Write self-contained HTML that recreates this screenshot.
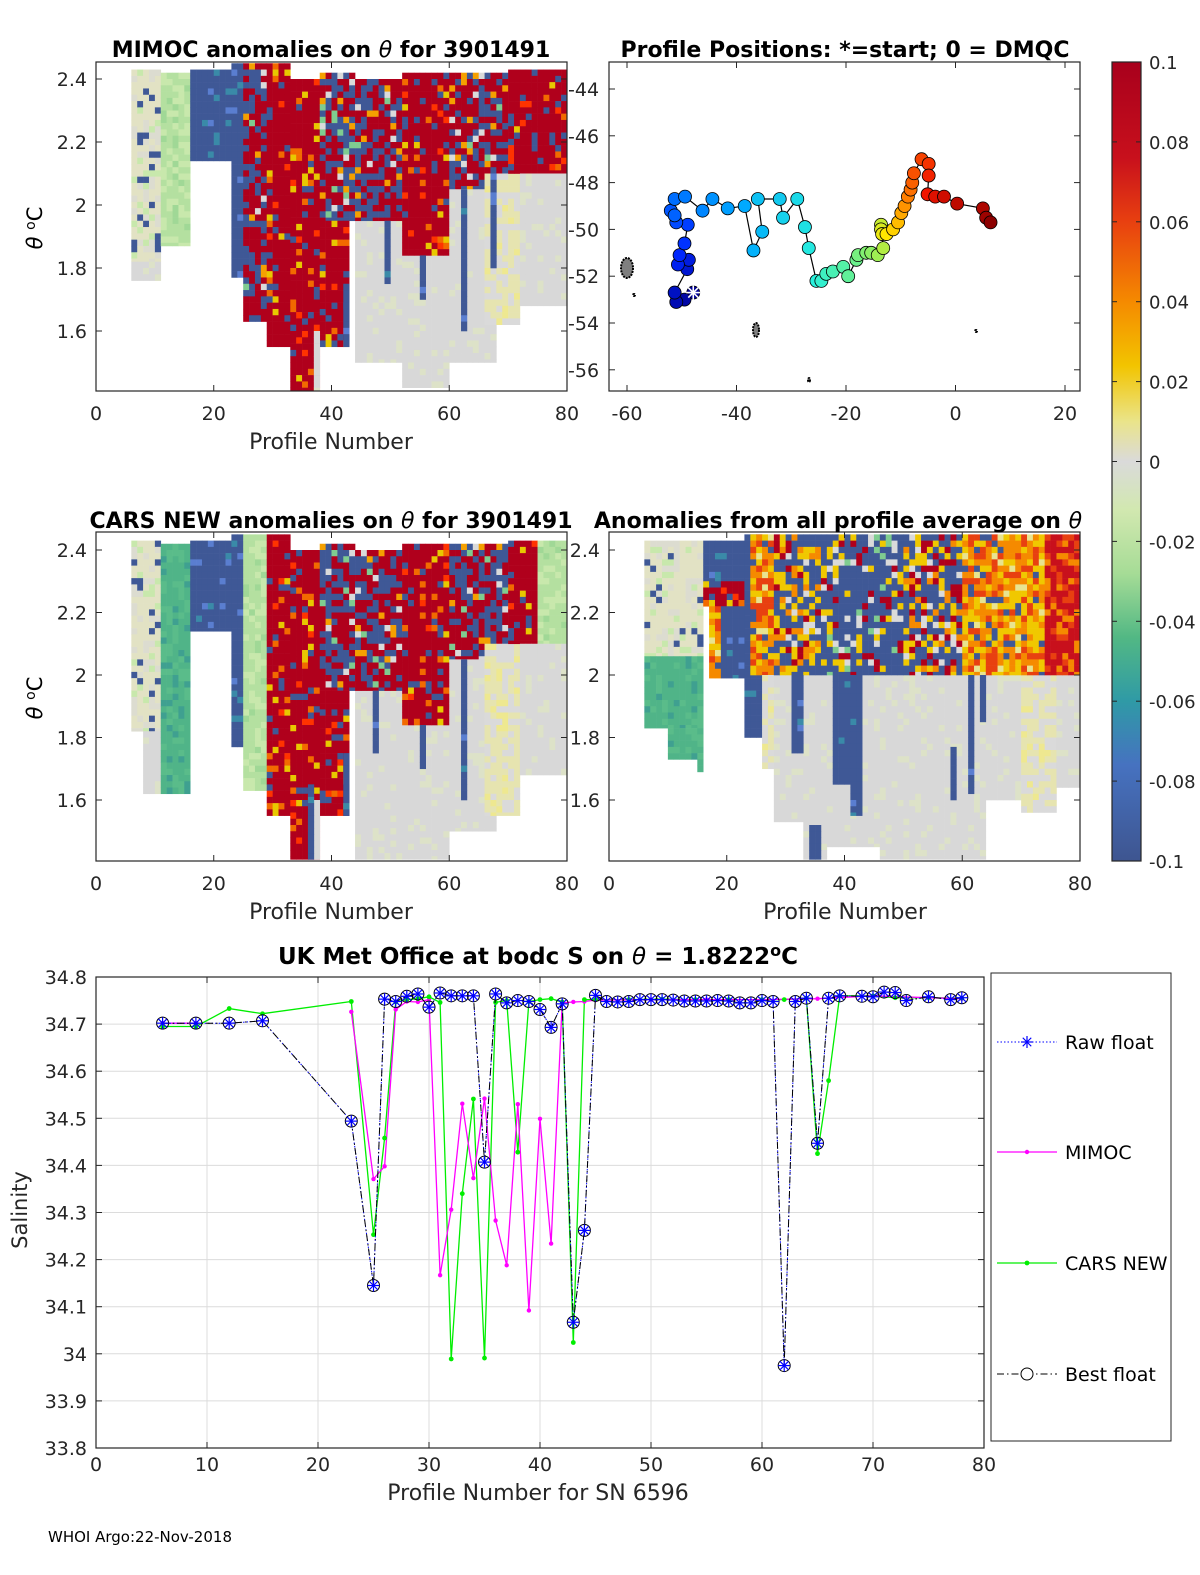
<!DOCTYPE html>
<html><head><meta charset="utf-8"><style>
html,body{margin:0;padding:0;background:#fff;}
svg{display:block;font-family:"DejaVu Sans","Liberation Sans",sans-serif;}
</style></head><body>
<svg id="fig" width="1200" height="1575" viewBox="0 0 1200 1575" xmlns="http://www.w3.org/2000/svg">
<defs>
<linearGradient id="cbar" x1="0" y1="0" x2="0" y2="1">
<stop offset="0" stop-color="#a8001c"/><stop offset="0.12" stop-color="#c8101c"/><stop offset="0.2" stop-color="#e84010"/><stop offset="0.3" stop-color="#f58a00"/><stop offset="0.38" stop-color="#f2c400"/><stop offset="0.45" stop-color="#eae48a"/><stop offset="0.5" stop-color="#dadada"/><stop offset="0.56" stop-color="#d2e8b0"/><stop offset="0.64" stop-color="#a6dc96"/><stop offset="0.72" stop-color="#52b884"/><stop offset="0.8" stop-color="#2f9aa6"/><stop offset="0.88" stop-color="#4672c0"/><stop offset="1" stop-color="#3e5590"/>
</linearGradient>
</defs>
<g id="panels"></g>
<g id="bottom"></g>
<text x="48" y="1542" font-size="15">WHOI Argo:22-Nov-2018</text>
</svg>
<script>
// ---------- bottom chart data ----------
const rawProfiles=[6,9,12,15,23,25,26,27,28,29,30,31,32,33,34,35,36,37,38,39,40,41,42,43,44,45,46,47,48,49,50,51,52,53,54,55,56,57,58,59,60,61,62,63,64,65,66,67,69,70,71,72,73,75,77,78];
const rawValues=[34.702,34.702,34.702,34.707,34.494,34.145,34.753,34.748,34.759,34.764,34.736,34.766,34.760,34.760,34.760,34.407,34.764,34.745,34.750,34.748,34.731,34.693,34.743,34.067,34.262,34.761,34.748,34.747,34.748,34.752,34.752,34.752,34.751,34.749,34.749,34.749,34.750,34.749,34.745,34.745,34.750,34.748,33.975,34.748,34.755,34.447,34.755,34.760,34.759,34.758,34.768,34.767,34.750,34.758,34.752,34.756];
const mimocProfiles=[6,9,null,23,25,26,27,28,29,30,31,32,33,34,35,36,37,38,39,40,41,42,43,44,45,50,55,60,65,70,75,78];
const mimocValues=[34.702,34.702,null,34.726,34.371,34.398,34.731,34.748,34.747,34.752,34.167,34.306,34.531,34.373,34.542,34.283,34.188,34.530,34.092,34.499,34.234,34.745,34.747,34.748,34.751,34.752,34.752,34.752,34.754,34.760,34.756,34.754];
const carsProfiles=[6,9,12,15,23,25,26,27,28,29,30,31,32,33,34,35,36,37,38,39,40,41,42,43,44,45,48,51,54,57,60,62,64,65,66,67,70,72,75,78];
const carsValues=[34.695,34.695,34.733,34.722,34.748,34.253,34.458,34.747,34.752,34.754,34.758,34.746,33.989,34.340,34.541,33.991,34.746,34.750,34.428,34.748,34.752,34.754,34.747,34.024,34.752,34.752,34.752,34.753,34.752,34.752,34.752,34.752,34.755,34.425,34.580,34.760,34.760,34.756,34.756,34.755];
const yTicks=[34.8,34.7,34.6,34.5,34.4,34.3,34.2,34.1,34,33.9,33.8];
const xTicks=[0,10,20,30,40,50,60,70,80];

// ---------- position data ----------
const trackLon=[-47.9,-49.5,-51.0,-51.3,-49.0,-48.7,-50.7,-50.4,-49.5,-48.9,-51.0,-52.0,-51.3,-51.3,-49.4,-46.2,-44.4,-41.6,-38.5,-36.9,-35.3,-36.1,-32.1,-31.5,-28.9,-27.5,-26.8,-25.4,-24.5,-23.6,-22.4,-20.5,-19.6,-18.1,-17.8,-16.3,-15.4,-14.2,-13.2,-13.6,-13.6,-13.4,-12.6,-11.4,-10.5,-9.9,-9.3,-8.7,-8.2,-7.9,-7.6,-6.2,-4.9,-4.9,-5.1,-3.7,-2.1,0.3,5.0,5.6,6.4];
const trackLat=[-52.7,-53.0,-53.1,-52.7,-51.7,-51.3,-51.5,-51.1,-50.6,-49.8,-49.7,-49.2,-49.4,-48.7,-48.6,-49.2,-48.7,-49.1,-49.0,-50.9,-50.1,-48.7,-48.7,-49.5,-48.7,-49.9,-50.8,-52.2,-52.2,-51.9,-51.8,-51.6,-52.0,-51.3,-51.1,-51.0,-51.0,-51.1,-50.8,-49.8,-50.0,-50.2,-50.2,-50.0,-49.7,-49.3,-49.0,-48.6,-48.3,-48.0,-47.6,-47.0,-47.2,-47.7,-48.5,-48.6,-48.6,-48.9,-49.1,-49.5,-49.7];
const lonTicks=[-60,-40,-20,0,20];
const latTicks=[-44,-46,-48,-50,-52,-54,-56];

// ---------- section (heatmap) region data: [profileFrom, profileTo, thetaTop, thetaBottom, type] ----------
const mimocRegions=[
[6,11,2.43,1.82,'L'],[6,11,1.82,1.76,'Gr'],[11,16,2.42,1.87,'G'],[16,23,2.43,2.14,'B'],[23,25,2.45,1.77,'B'],
[25,29,2.45,1.63,'M'],[29,33,2.45,1.55,'R'],[33,38,2.40,1.41,'R'],[38,44,2.42,1.95,'M'],[38,43,1.95,1.55,'R'],
[44,52,1.95,1.50,'Gr'],[52,60,1.84,1.42,'Gr'],[44,52,2.40,1.95,'M'],[52,60,2.42,1.84,'R'],[60,66,2.42,2.05,'M'],
[60,68,2.05,1.50,'Gr'],[66,70,2.42,2.10,'M'],[66,72,2.10,1.62,'Ly'],[70,80,2.43,2.10,'R'],[72,80,2.10,1.68,'Gr'],
[37,38,1.60,1.41,'Gr'],[62,63,2.05,1.60,'B'],[55,56,1.84,1.70,'B'],[49,50,1.95,1.75,'B'],[42,43,1.75,1.55,'B'],[67,68,2.10,1.80,'B']];
const carsRegions=[
[6,11,2.43,1.82,'L'],[8,11,1.82,1.62,'Gr'],[11,16,2.42,1.62,'T'],[16,23,2.43,2.14,'B'],[23,25,2.45,1.77,'B'],
[25,29,2.45,1.63,'G'],[29,33,2.45,1.55,'R'],[33,38,2.40,1.41,'R'],[38,44,2.42,1.95,'M'],[38,43,1.95,1.55,'R'],
[44,52,1.95,1.41,'Gr'],[52,60,1.84,1.41,'Gr'],[44,52,2.40,1.95,'M'],[52,60,2.42,1.84,'R'],[60,66,2.42,2.05,'M'],
[60,68,2.05,1.50,'Gr'],[66,70,2.42,2.10,'M'],[66,72,2.10,1.55,'Ly'],[70,75,2.43,2.10,'R'],[75,80,2.43,1.80,'G'],[72,80,2.10,1.68,'Gr'],
[37,38,1.60,1.41,'Gr'],[62,63,2.05,1.60,'B'],[55,56,1.84,1.70,'B'],[42,43,1.75,1.55,'B'],[36,37,1.65,1.41,'B'],[47,48,1.95,1.75,'B']];
const allRegions=[
[6,16,2.43,2.06,'L'],[6,16,2.06,1.83,'T'],[10,15,1.83,1.73,'T'],[15,16,1.83,1.69,'T'],
[16,23,2.43,2.30,'B'],[16,23,2.30,2.22,'R'],[17,19,2.22,1.99,'O'],[19,23,2.22,1.99,'B'],[23,26,2.45,1.80,'B'],
[24,28,2.45,2.0,'O'],[26,28,2.0,1.70,'Ly'],[28,33,2.0,1.53,'Gr'],[33,37,2.0,1.41,'Gr'],[37,46,2.0,1.45,'Gr'],[46,64,2.0,1.41,'Gr'],
[64,70,2.0,1.60,'Gr'],[70,76,2.0,1.56,'Ly'],[76,80,2.0,1.64,'Gr'],
[28,36,2.45,2.0,'M2'],[36,50,2.45,2.0,'MB'],[50,60,2.45,2.0,'M2'],[60,74,2.45,2.0,'O'],[74,80,2.45,2.0,'RO'],
[31,33,2.0,1.75,'B'],[38,41,2.0,1.65,'B'],[41,43,2.0,1.55,'B'],[34,36,1.52,1.41,'B'],[58,59,1.77,1.60,'B'],[61,62,2.0,1.62,'B'],[63,64,2.0,1.85,'B']];
const thetaTicks=[2.4,2.2,2,1.8,1.6];
const profTicks=[0,20,40,60,80];
const cbarTicks=[0.1,0.08,0.06,0.04,0.02,0,-0.02,-0.04,-0.06,-0.08,-0.1];

const NS='http://www.w3.org/2000/svg';
function mk(tag,attrs,parent,txt){const e=document.createElementNS(NS,tag);for(const k in attrs)e.setAttribute(k,attrs[k]);if(txt!==undefined)e.textContent=txt;parent.appendChild(e);return e;}
const P=document.getElementById('panels');
const B=document.getElementById('bottom');

const pal={
 R:[['#b0001c',78],['#3f5896',9],['#f26a00',5],['#e8c800',4],['#ff3300',4]],
 B:[['#3f5896',92],['#3a8aa8',4],['#5a7ed0',4]],
 M:[['#b0001c',48],['#3f5896',38],['#f5a000',5],['#dadada',5],['#7fcc90',4]],
 M2:[['#3f5896',45],['#f0c800',20],['#b0001c',15],['#f58a00',12],['#dadada',8]],
 MB:[['#3f5896',70],['#f0c800',10],['#b0001c',8],['#dadada',7],['#7fcc90',5]],
 O:[['#f58a00',35],['#f0c800',25],['#e84010',20],['#3f5896',12],['#e8e490',8]],
 RO:[['#c8101c',55],['#e84010',25],['#f58a00',20]],
 G:[['#b4e0a0',60],['#c8e8ac',30],['#a0d896',10]],
 T:[['#50b488',60],['#5abc8a',25],['#3fa090',15]],
 L:[['#e2e2c4',55],['#dcdcd0',25],['#c8e8ac',10],['#3f5896',10]],
 Ly:[['#e6e4b0',55],['#dadada',35],['#eee890',10]],
 Gr:[['#d8d8d8',85],['#dde2c8',15]]
};
function pick(type,i,j,k){const h=(((i*73856093)^(j*19349663)^(k*83492791))>>>0)%100;let acc=0;for(const [c,w] of pal[type]){acc+=w;if(h<acc)return c;}return pal[type][0][0];}

function section(cfg){
 const g=mk('g',{},P);
 
 
 const X=p=>cfg.x0+(p/80)*cfg.w;
 const Y=t=>cfg.y24+(2.4-t)*cfg.k;
 const cw=cfg.w/80, dt=0.02;
 cfg.regions.forEach((r,ri)=>{
  for(let p=r[0];p<r[1];p++){
   for(let t=r[2];t>r[3]+1e-6;t-=dt){
    const t2=Math.max(t-dt,r[3]);
    const y1=Math.max(Y(t),cfg.y0),y2=Math.min(Y(t2),cfg.y0+cfg.h);
    if(y2<=y1)continue;
    const c=mk('rect',{x:X(p).toFixed(2),y:y1.toFixed(2),width:(cw+0.3).toFixed(2),height:(y2-y1+0.3).toFixed(2),fill:pick(r[4],p,Math.round(t*100),cfg.seed)},g);
    
    
   }
  }
 });
 const box=mk('rect',{x:cfg.x0,y:cfg.y0,width:cfg.w,height:cfg.h,fill:'none',stroke:'#262626','stroke-width':1.2},P);
 
 
 thetaTicks.forEach(t=>{const y=Y(t);
  mk('line',{x1:cfg.x0,x2:cfg.x0+6,y1:y,y2:y,stroke:'#262626'},P);
  mk('line',{x1:cfg.x0+cfg.w,x2:cfg.x0+cfg.w-6,y1:y,y2:y,stroke:'#262626'},P);
  const tx=mk('text',{x:cfg.x0-9,y:y+7,'font-size':19,'text-anchor':'end',fill:'#262626'},P,String(t));
  
  
 });
 profTicks.forEach(p=>{const x=X(p);
  mk('line',{x1:x,x2:x,y1:cfg.y0+cfg.h,y2:cfg.y0+cfg.h-6,stroke:'#262626'},P);
  mk('line',{x1:x,x2:x,y1:cfg.y0,y2:cfg.y0+6,stroke:'#262626'},P);
  const tx=mk('text',{x:x,y:cfg.y0+cfg.h+29,'font-size':19,'text-anchor':'middle',fill:'#262626'},P,String(p));
  
  
 });
}
section({name:'mimoc-section',x0:96,y0:62,w:471,h:329,y24:79,k:315,regions:mimocRegions,seed:1});
section({name:'cars-section',x0:96,y0:532,w:471,h:329,y24:550,k:312.5,regions:carsRegions,seed:2});
section({name:'all-profile-section',x0:609,y0:532,w:471,h:329,y24:550,k:312.5,regions:allRegions,seed:3});

function addText(x,y,s,size,name,opts){const t=mk('text',Object.assign({x:x,y:y,'font-size':size,fill:'#000'},opts||{}),P);t.innerHTML=s;return t;}
addText(331,57,'MIMOC anomalies on <tspan font-style="italic" font-weight="normal">θ</tspan>  for 3901491',22,'title-mimoc',{'text-anchor':'middle','font-weight':'bold'});
addText(845,57,'Profile Positions: *=start; 0 = DMQC',22,'title-positions',{'text-anchor':'middle','font-weight':'bold'});
addText(331,528,'CARS NEW anomalies on <tspan font-style="italic" font-weight="normal">θ</tspan> for 3901491',22,'title-cars',{'text-anchor':'middle','font-weight':'bold'});
addText(838,528,'Anomalies from all profile average on <tspan font-style="italic" font-weight="normal">θ</tspan>',22,'title-all-average',{'text-anchor':'middle','font-weight':'bold'});
addText(331,449,'Profile Number',22,'x-axis-title-mimoc',{'text-anchor':'middle','fill':'#262626'});
addText(331,919,'Profile Number',22,'x-axis-title-cars',{'text-anchor':'middle','fill':'#262626'});
addText(845,919,'Profile Number',22,'x-axis-title-all',{'text-anchor':'middle','fill':'#262626'});
addText(0,0,'<tspan font-style="italic">θ</tspan> <tspan dy="-7" font-size="14">o</tspan><tspan dy="7">C</tspan>',21,'y-axis-title-mimoc',{'text-anchor':'middle',transform:'translate(42,228) rotate(-90)'});
addText(0,0,'<tspan font-style="italic">θ</tspan> <tspan dy="-7" font-size="14">o</tspan><tspan dy="7">C</tspan>',21,'y-axis-title-cars',{'text-anchor':'middle',transform:'translate(42,698) rotate(-90)'});

// ---------- positions map ----------
(function(){
 const x0=609,y0=62,w=471,h=329;
 const LX=l=>627+(l+60)*5.475;
 const LY=l=>89+(-44-l)*23.4;
 const g=mk('g',{},P);
 
 
 const box=mk('rect',{x:x0,y:y0,width:w,height:h,fill:'none',stroke:'#262626','stroke-width':1.2},g);
 
 
 lonTicks.forEach(l=>{const x=LX(l);mk('line',{x1:x,x2:x,y1:y0+h,y2:y0+h-6,stroke:'#262626'},g);mk('line',{x1:x,x2:x,y1:y0,y2:y0+6,stroke:'#262626'},g);
  const t=mk('text',{x:x,y:y0+h+29,'font-size':19,'text-anchor':'middle',fill:'#262626'},g,String(l));});
 latTicks.forEach(l=>{const y=LY(l);mk('line',{x1:x0,x2:x0+6,y1:y,y2:y,stroke:'#262626'},g);mk('line',{x1:x0+w,x2:x0+w-6,y1:y,y2:y,stroke:'#262626'},g);
  const t=mk('text',{x:x0-41,y:y+7,'font-size':19,'text-anchor':'start',fill:'#262626'},g,String(l));});
 [[623,268,6,10],[752,330,3,7],[630,295,1,1],[805,380,1,2],[972,331,1,1]].forEach(s=>{const e=mk('ellipse',{cx:s[0]+4,cy:s[1],rx:s[2],ry:s[3],fill:'#000','fill-opacity':0.5,stroke:'#000','stroke-width':2,'stroke-dasharray':'2 1'},g);});
 let d='';trackLon.forEach((l,i)=>{d+=(i?'L':'M')+LX(l).toFixed(1)+' '+LY(trackLat[i]).toFixed(1);});
 const path=mk('path',{d:d,fill:'none',stroke:'#000','stroke-width':1.2},g);
 
 
 const jet=[[0,[0,0,150]],[0.12,[0,40,255]],[0.3,[0,170,255]],[0.45,[40,240,220]],[0.6,[140,240,100]],[0.7,[255,230,0]],[0.78,[255,130,0]],[0.9,[240,20,0]],[1,[140,0,0]]];
 function jc(t){for(let i=1;i<jet.length;i++){if(t<=jet[i][0]){const a=jet[i-1],b=jet[i];const f=(t-a[0])/(b[0]-a[0]);return 'rgb('+a[1].map((v,k)=>Math.round(v+(b[1][k]-v)*f)).join(',')+')';}}return 'rgb(140,0,0)';}
 const n=trackLon.length;
 trackLon.forEach((l,i)=>{const c=mk('circle',{cx:LX(l),cy:LY(trackLat[i]),r:6.5,fill:jc(i/(n-1)),stroke:'#000','stroke-width':0.8},g);
  
  });
 const sx=LX(trackLon[0]),sy=LY(trackLat[0]);
 for(let a=0;a<4;a++){const an=a*Math.PI/4;mk('line',{x1:sx-7*Math.cos(an),y1:sy-7*Math.sin(an),x2:sx+7*Math.cos(an),y2:sy+7*Math.sin(an),stroke:'#fff','stroke-width':1.6},g);}
})();

// ---------- colorbar ----------
(function(){
 const cb=mk('rect',{x:1112,y:62,width:29,height:799,fill:'url(#cbar)',stroke:'#262626','stroke-width':1.2},P);
 
 
 cbarTicks.forEach(v=>{const y=62+(0.1-v)/0.2*799;
  mk('line',{x1:1112,x2:1117,y1:y,y2:y,stroke:'#262626'},P);mk('line',{x1:1141,x2:1136,y1:y,y2:y,stroke:'#262626'},P);
  const t=mk('text',{x:1149,y:y+7,'font-size':18,fill:'#262626'},P,String(v));
  
  });
})();

// ---------- bottom salinity chart ----------
(function(){
 const x0=96,y0=977,w=888,h=471;
 const X=p=>x0+p/80*w;
 const Y=v=>y0+(34.8-v)/1.0*h;
 xTicks.forEach(p=>{const x=X(p);mk('line',{x1:x,x2:x,y1:y0,y2:y0+h,stroke:'#dcdcdc'},B);
  mk('line',{x1:x,x2:x,y1:y0+h,y2:y0+h-6,stroke:'#262626'},B);mk('line',{x1:x,x2:x,y1:y0,y2:y0+6,stroke:'#262626'},B);
  const t=mk('text',{x:x,y:y0+h+23,'font-size':19,'text-anchor':'middle',fill:'#262626'},B,String(p));
  
  });
 yTicks.forEach(v=>{const y=Y(v);mk('line',{x1:x0,x2:x0+w,y1:y,y2:y,stroke:'#dcdcdc'},B);
  mk('line',{x1:x0,x2:x0+6,y1:y,y2:y,stroke:'#262626'},B);mk('line',{x1:x0+w,x2:x0+w-6,y1:y,y2:y,stroke:'#262626'},B);
  const t=mk('text',{x:x0-9,y:y+7,'font-size':19,'text-anchor':'end',fill:'#262626'},B,String(v));
  
  });
 const ax=mk('rect',{x:x0,y:y0,width:w,height:h,fill:'none',stroke:'#262626','stroke-width':1.2},B);
 
 
 function pathOf(ps,vs){let d='',pen=false;ps.forEach((p,i)=>{if(p===null||vs[i]===null){pen=false;return;}d+=(pen?'L':'M')+X(p).toFixed(1)+' '+Y(vs[i]).toFixed(1);pen=true;});return d;}
 const cars=mk('path',{d:pathOf(carsProfiles,carsValues),fill:'none',stroke:'#00ee00','stroke-width':1.3},B);
 
 
 const mim=mk('path',{d:pathOf(mimocProfiles,mimocValues),fill:'none',stroke:'#ff00ff','stroke-width':1.3},B);
 
 
 mimocProfiles.forEach((p,i)=>{if(p===null)return;const c=mk('circle',{cx:X(p),cy:Y(mimocValues[i]),r:2.2,fill:'#ff00ff'},B);});
 carsProfiles.forEach((p,i)=>{const c=mk('circle',{cx:X(p),cy:Y(carsValues[i]),r:2.4,fill:'#00ee00'},B);});
 const raw=mk('path',{d:pathOf(rawProfiles,rawValues),fill:'none',stroke:'#0000ff','stroke-width':1,'stroke-dasharray':'1.5 2'},B);
 
 
 const best=mk('path',{d:pathOf(rawProfiles,rawValues),fill:'none',stroke:'#000','stroke-width':1,'stroke-dasharray':'7 3 1.5 3'},B);
 
 
 function star(x,y,g){for(let a=0;a<4;a++){const an=a*Math.PI/4;mk('line',{x1:x-6*Math.cos(an),y1:y-6*Math.sin(an),x2:x+6*Math.cos(an),y2:y+6*Math.sin(an),stroke:'#0000ff','stroke-width':1.2},g);}}
 rawProfiles.forEach((p,i)=>{const g=mk('g',{},B);
  
  
  mk('circle',{cx:X(p),cy:Y(rawValues[i]),r:6,fill:'none',stroke:'#000','stroke-width':1},g);star(X(p),Y(rawValues[i]),g);});
 const t=mk('text',{x:538,y:964,'font-size':23,'font-weight':'bold','text-anchor':'middle'},B);
 t.innerHTML='UK Met Office at bodc S on <tspan font-style="italic" font-weight="normal">θ</tspan> = 1.8222<tspan dy="-8" font-size="16">o</tspan><tspan dy="8">C</tspan>';
 
 
 const xl=mk('text',{x:538,y:1500,'font-size':22,'text-anchor':'middle',fill:'#262626'},B,'Profile Number for SN 6596');
 
 
 const yl=mk('text',{x:0,y:0,'font-size':21,'text-anchor':'middle',fill:'#262626',transform:'translate(27,1210) rotate(-90)'},B,'Salinity');
 
 
 const lg=mk('g',{},B);
 
 
 mk('rect',{x:991,y:973,width:180,height:468,fill:'#fff',stroke:'#262626','stroke-width':1},lg);
 const entries=[['Raw float',1042,'raw'],['MIMOC',1152,'mimoc'],['CARS NEW',1263,'cars'],['Best float',1374,'best']];
 entries.forEach(e=>{const eg=mk('g',{},lg);
  
  
  const y=e[1];
  if(e[2]==='raw'){mk('line',{x1:997,x2:1057,y1:y,y2:y,stroke:'#0000ff','stroke-dasharray':'1.5 2'},eg);star(1027,y,eg);}
  if(e[2]==='mimoc'){mk('line',{x1:997,x2:1057,y1:y,y2:y,stroke:'#ff00ff','stroke-width':1.3},eg);mk('circle',{cx:1027,cy:y,r:2.2,fill:'#ff00ff'},eg);}
  if(e[2]==='cars'){mk('line',{x1:997,x2:1057,y1:y,y2:y,stroke:'#00ee00','stroke-width':1.3},eg);mk('circle',{cx:1027,cy:y,r:2.4,fill:'#00ee00'},eg);}
  if(e[2]==='best'){mk('line',{x1:997,x2:1057,y1:y,y2:y,stroke:'#000','stroke-dasharray':'7 3 1.5 3'},eg);mk('circle',{cx:1027,cy:y,r:6,fill:'#fff',stroke:'#000'},eg);}
  mk('text',{x:1065,y:y+7,'font-size':19,fill:'#000'},eg,e[0]);});
})();
</script>
</body></html>
